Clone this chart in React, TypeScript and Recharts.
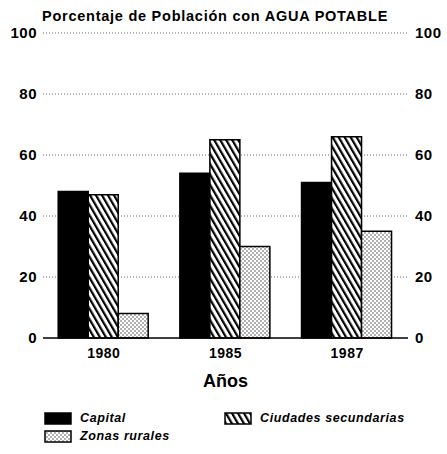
import { ComposedChart, Bar, Line, XAxis, YAxis, CartesianGrid } from 'recharts';

const years = ['1980', '1985', '1987'];
const capital = [48, 54, 51];
const ciudades = [47, 65, 66];
const rurales = [8, 30, 35];
const yTicks = [0, 20, 40, 60, 80, 100];

const data = years.map((year, i) => ({
  year,
  capital: capital[i],
  ciudades: ciudades[i],
  rurales: rurales[i],
}));

const FONT = '"Liberation Sans", Arial, sans-serif';

const legendItems = [
  { name: 'Capital', fill: '#000', left: 44, top: 410 },
  { name: 'Ciudades secundarias', fill: 'url(#lhatch)', left: 224, top: 410 },
  { name: 'Zonas rurales', fill: 'url(#ldots)', left: 44, top: 428 },
];

function Patterns({ prefix }: any) {
  return (
    <defs>
      <pattern id={prefix + 'hatch'} width="5.2" height="5.2" patternUnits="userSpaceOnUse" patternTransform="rotate(-30)">
        <rect width="5.2" height="5.2" fill="#fff" />
        <rect width="2.2" height="5.2" fill="#000" />
      </pattern>
      <pattern id={prefix + 'dots'} width="4" height="4" patternUnits="userSpaceOnUse">
        <rect width="4" height="4" fill="#fff" />
        <circle cx="1" cy="1" r="0.65" fill="#222" />
        <circle cx="3" cy="3" r="0.65" fill="#222" />
      </pattern>
    </defs>
  );
}

function LegendBox() {
  return (
    <div style={{ fontFamily: FONT, fontWeight: 'bold', fontStyle: 'italic', fontSize: 12.5, letterSpacing: 0.6 }}>
      <svg width={0} height={0} style={{ position: 'absolute' }}>
        <Patterns prefix="l" />
      </svg>
      {legendItems.map((item) => (
        <div key={item.name} style={{ display: 'flex', alignItems: 'center', position: 'absolute', left: item.left, top: item.top, height: 16 }}>
          <svg width={28} height={13} style={{ display: 'block' }}>
            <rect x={1} y={1} width={26} height={11} fill={item.fill} stroke="#000" strokeWidth={1.5} />
          </svg>
          <span style={{ marginLeft: 8 }}>{item.name}</span>
        </div>
      ))}
    </div>
  );
}

export default function App() {
  return (
    <div style={{ position: 'absolute', left: 0, top: 0, width: 447, height: 454, background: '#fff' }}>
      <div style={{ position: 'absolute', left: 42, top: 8, fontFamily: FONT, fontWeight: 'bold', fontSize: 14.5, letterSpacing: 0.75, whiteSpace: 'nowrap' }}>
        Porcentaje de Población con AGUA POTABLE
      </div>
      <ComposedChart
        width={447}
        height={454}
        data={data}
        margin={{ top: 33, right: 0, bottom: 0, left: 0 }}
        barGap={0}
        barCategoryGap="12.5%"
      >
        <Patterns prefix="" />
        <CartesianGrid yAxisId="left" vertical={false} stroke="#444" strokeDasharray="1 2" strokeWidth={0.8} horizontalValues={[20, 40, 60, 80, 100]} />
        <XAxis
          dataKey="year"
          height={116}
          tickLine={false}
          axisLine={{ stroke: '#000', strokeWidth: 1.5 }}
          tick={{ fill: '#000', fontFamily: FONT, fontWeight: 'bold', fontSize: 14, letterSpacing: 0.5 }}
          tickMargin={4}
          label={{ value: 'Años', position: 'insideTop', offset: 36, fill: '#000', fontFamily: FONT, fontSize: 18, fontWeight: 'bold' }}
        />
        <YAxis
          yAxisId="left"
          orientation="left"
          width={43}
          domain={[0, 100]}
          ticks={yTicks}
          axisLine={false}
          tickLine={false}
          tickMargin={0}
          tick={{ fill: '#000', fontFamily: FONT, fontWeight: 'bold', fontSize: 15, letterSpacing: 0.5 }}
        />
        <YAxis
          yAxisId="right"
          orientation="right"
          width={39}
          domain={[0, 100]}
          ticks={yTicks}
          axisLine={false}
          tickLine={false}
          tickMargin={1}
          tick={{ fill: '#000', fontFamily: FONT, fontWeight: 'bold', fontSize: 15, letterSpacing: 0.5 }}
        />
        <Bar yAxisId="left" dataKey="capital" name="Capital" fill="#000" stroke="#000" strokeWidth={1.5} isAnimationActive={false} />
        <Bar yAxisId="left" dataKey="ciudades" name="Ciudades secundarias" fill="url(#hatch)" stroke="#000" strokeWidth={1.5} isAnimationActive={false} />
        <Bar yAxisId="left" dataKey="rurales" name="Zonas rurales" fill="url(#dots)" stroke="#000" strokeWidth={1.5} isAnimationActive={false} />
        <Line yAxisId="right" dataKey="capital" stroke="none" dot={false} activeDot={false} legendType="none" isAnimationActive={false} />
      </ComposedChart>
      <LegendBox />
    </div>
  );
}
